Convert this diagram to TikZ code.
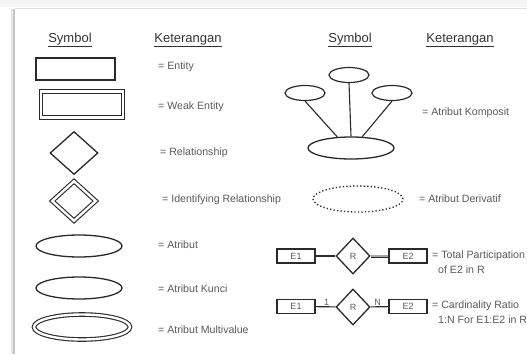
\documentclass[tikz,border=0pt]{standalone}
\usepackage{fontspec}
\setmainfont{Liberation Sans}
\usetikzlibrary{shapes.geometric}
\definecolor{txt}{HTML}{5A5A5A}
\definecolor{hdr}{HTML}{333333}
\definecolor{ln}{HTML}{2A2A2A}
\tikzset{
  shp/.style={draw=ln, line width=1.3pt, inner sep=0pt},
  ent/.style={shp, rectangle, minimum width=79pt, minimum height=22pt},
  rel/.style={shp, diamond, minimum width=48pt, minimum height=43pt},
  att/.style={shp, ellipse, minimum width=86pt, minimum height=22pt},
  small/.style={shp, ellipse, line width=1.2pt, minimum width=40pt, minimum height=15pt},
  ebox/.style={draw=ln, line width=1.2pt, rectangle, minimum width=38pt, minimum height=14pt, inner sep=0pt, font=\fontsize{9}{10}\selectfont, text=txt},
  rbox/.style={draw=ln, line width=1.3pt, diamond, minimum width=34pt, minimum height=36pt, inner sep=0pt, font=\fontsize{9}{10}\selectfont, text=txt},
  desc/.style={anchor=west, inner sep=0pt, text=txt, font=\fontsize{10.6}{12.5}\selectfont, align=left},
  head/.style={inner sep=0pt, text=hdr, font=\fontsize{13}{15}\selectfont},
  conn/.style={draw=ln, line width=1.1pt},
}
\begin{document}
\begin{tikzpicture}[x=1pt, y=-1pt]
\useasboundingbox (0,0) rectangle (527,354);
% card background
\fill[gray!8] (0,0) rectangle (527,7);
\fill[white] (14,8) rectangle (527,354);
\fill[gray!45] (12.5,9) rectangle (15,354);
\fill[gray!20] (11,9) rectangle (12.5,354);
\draw[gray!25, line width=0.6pt] (15,7.8) -- (527,7.8);

% headers
\node[head] (h1) at (70,40) {\underline{Symbol}};
\node[head] (h2) at (188,40) {\underline{Keterangan}};
\node[head] (h3) at (350,40) {\underline{Symbol}};
\node[head] (h4) at (460,40) {\underline{Keterangan}};

% left column symbols
\node[ent] (entity) at (75.5,69) {};
\node[desc] (dentity) at (158,67) {= Entity};

\node[shp, rectangle, double, double distance=2.6pt, line width=1.1pt, minimum width=82pt, minimum height=26pt] (weak) at (82,104.5) {};
\node[desc] (dweak) at (158,107) {= Weak Entity};

\node[rel] (rel) at (74,153) {};
\node[desc] (drel) at (160,153) {= Relationship};

\node[shp, diamond, double, double distance=2.4pt, line width=1.1pt, minimum width=44pt, minimum height=40pt] (idrel) at (74,201) {};
\node[desc] (didrel) at (162,200) {= Identifying Relationship};

\node[att] (attr) at (79,246) {};
\node[desc] (dattr) at (158,245) {= Atribut};

\node[att] (key) at (79,288) {};
\node[desc] (dkey) at (158,289) {= Atribut Kunci};

\node[shp, ellipse, double, double distance=2.4pt, line width=1.1pt, minimum width=96pt, minimum height=25pt] (multi) at (82,327) {};
\node[desc] (dmulti) at (158,330) {= Atribut Multivalue};

% composite attribute
\node[small] (ct) at (349,75) {};
\node[small] (cl) at (305,93) {};
\node[small] (cr) at (392,93) {};
\node[att] (cb) at (351,148) {};
\draw[conn] (cl.south) -- (cb.141);
\draw[conn] (ct.south) -- (cb.north);
\draw[conn] (cr.south) -- (cb.45);
\node[desc] (dcomp) at (422,113) {= Atribut Komposit};

% derived attribute
\node[draw=ln, line width=1.3pt, dash pattern=on 1.3pt off 2.2pt, ellipse, minimum width=90pt, minimum height=26pt, inner sep=0pt] (deriv) at (358,199) {};
\node[desc] (dderiv) at (419,199) {= Atribut Derivatif};

% total participation
\node[ebox] (e1a) at (296,256) {E1};
\node[rbox] (ra) at (353,256) {R};
\node[ebox] (e2a) at (408,256) {E2};
\draw[conn] (e1a) -- (ra);
\draw[draw=ln, line width=0.9pt, double=gray!70, double distance=1.2pt] (ra) -- (e2a);
\node[desc] (dtot) at (432,256) {= Total Participation};
\node[desc] (dtot2) at (438,270) {of E2 in R};

% cardinality ratio
\node[ebox] (e1b) at (296,306.5) {E1};
\node[rbox] (rb) at (353,307) {R};
\node[ebox] (e2b) at (408,306.5) {E2};
\draw[conn] (e1b) -- node[above=0pt, pos=0.55, inner sep=1pt, text=txt, font=\fontsize{9}{10}\selectfont] (one) {1} (rb);
\draw[conn] (rb) -- node[above=0pt, pos=0.4, inner sep=1pt, text=txt, font=\fontsize{9}{10}\selectfont] (nn) {N} (e2b);
\node[desc] (dcard) at (432,306) {= Cardinality Ratio};
\node[desc] (dcard2) at (438,320) {1:N For E1:E2 in R};
\end{tikzpicture}
\end{document}
